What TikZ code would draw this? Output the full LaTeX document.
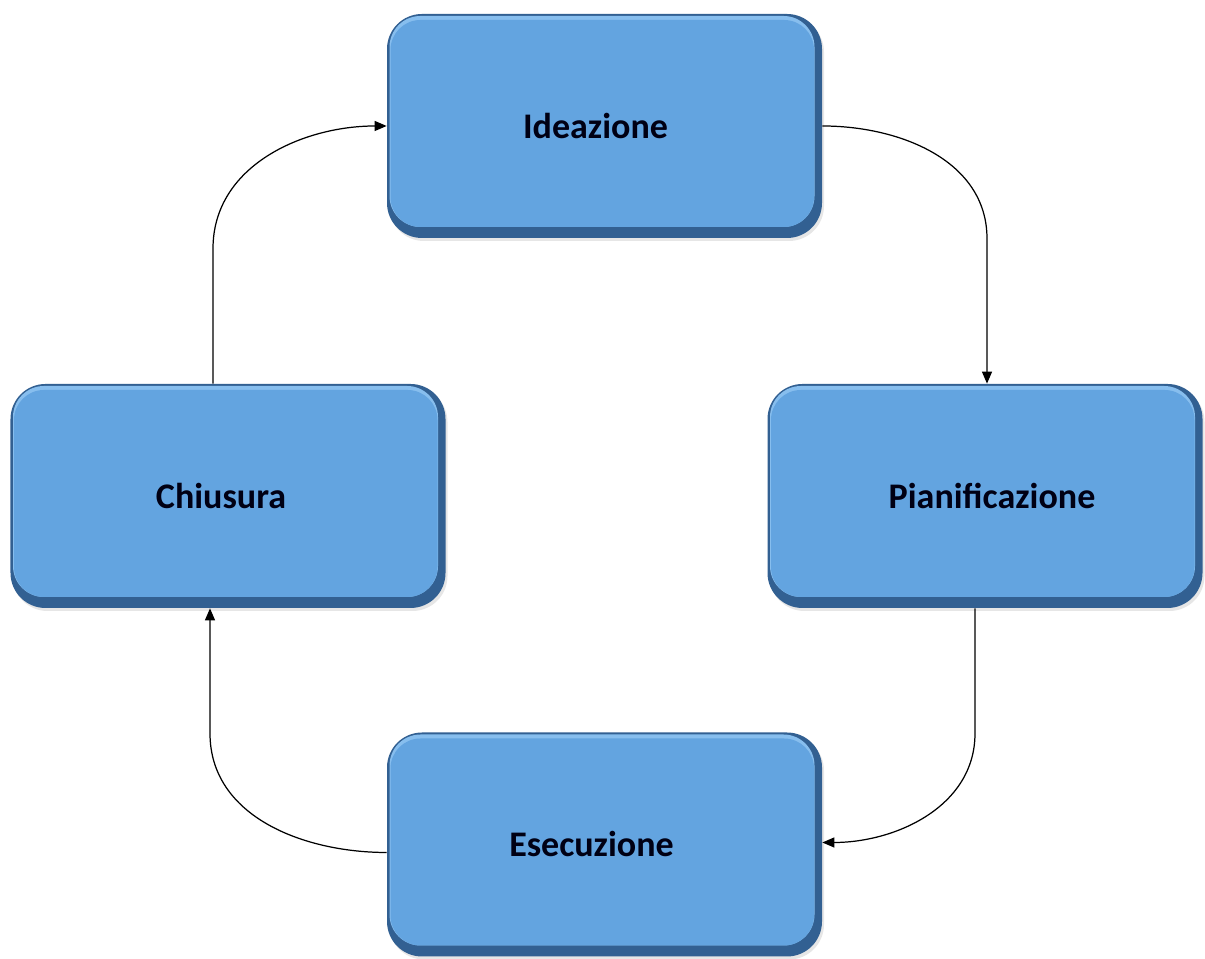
\documentclass[tikz,border=0pt]{standalone}
\usepackage{fontspec}
\setmainfont{Carlito}
\usetikzlibrary{arrows.meta,calc,shadows}

\definecolor{phaseblue}{RGB}{99,164,224}
\definecolor{phasedark}{RGB}{50,96,146}
\definecolor{phaselight}{RGB}{135,190,238}

\tikzset{
	phase/.style={rounded corners=0.7cm, minimum width=8.7cm, minimum height=4.48cm,
		fill=phasedark, drop shadow={opacity=0.2, shadow xshift=0.04cm, shadow yshift=-0.06cm},
		font=\fontsize{20.5}{24}\selectfont\bfseries, text=black!92!blue,
		path picture={
			\fill [phaselight, rounded corners=0.62cm]
				([shift={(0.05,-0.04)}]path picture bounding box.north west)
				rectangle ([shift={(-0.15,0.22)}]path picture bounding box.south east);
			\fill [phaseblue, rounded corners=0.6cm]
				([shift={(0.07,-0.12)}]path picture bounding box.north west)
				rectangle ([shift={(-0.16,0.22)}]path picture bounding box.south east);
		}},
	flow/.style={-{Triangle[length=0.24cm, width=0.2cm]}, line width=0.7pt}
}

\begin{document}
\begin{tikzpicture}

	\useasboundingbox (0,0) rectangle (24.1,19.18);

	% phases
	\node [phase] (ideazione) at (12.09,16.66) {\hspace*{-0.36cm}Ideazione};
	\node [phase] (pianificazione) at (19.7,9.26) {Pianificazione\hspace*{-0.28cm}};
	\node [phase] (esecuzione) at (12.09,2.29) {\hspace*{-0.52cm}\raisebox{-0.14cm}{Esecuzione}};
	\node [phase] (chiusura) at (4.56,9.26) {\hspace*{-0.28cm}Chiusura};

	% cycle
	\draw [flow] (ideazione.east) to [out=0, in=90]
		($(pianificazione.north)+(0.04,2.9)$) -- ([xshift=0.04cm]pianificazione.north);
	\draw [flow] ([xshift=-0.2cm]pianificazione.south) -- ++(0,-2.5)
		to [out=-90, in=0] ([yshift=0.04cm]esecuzione.east);
	\draw [flow] ([yshift=-0.16cm]esecuzione.west) to [out=180, in=-90]
		($(chiusura.south)+(-0.36,-2.5)$) -- ([xshift=-0.36cm]chiusura.south);
	\draw [flow] ([xshift=-0.3cm]chiusura.north) -- ++(0,2.7)
		to [out=90, in=180] (ideazione.west);

\end{tikzpicture}
\end{document}
